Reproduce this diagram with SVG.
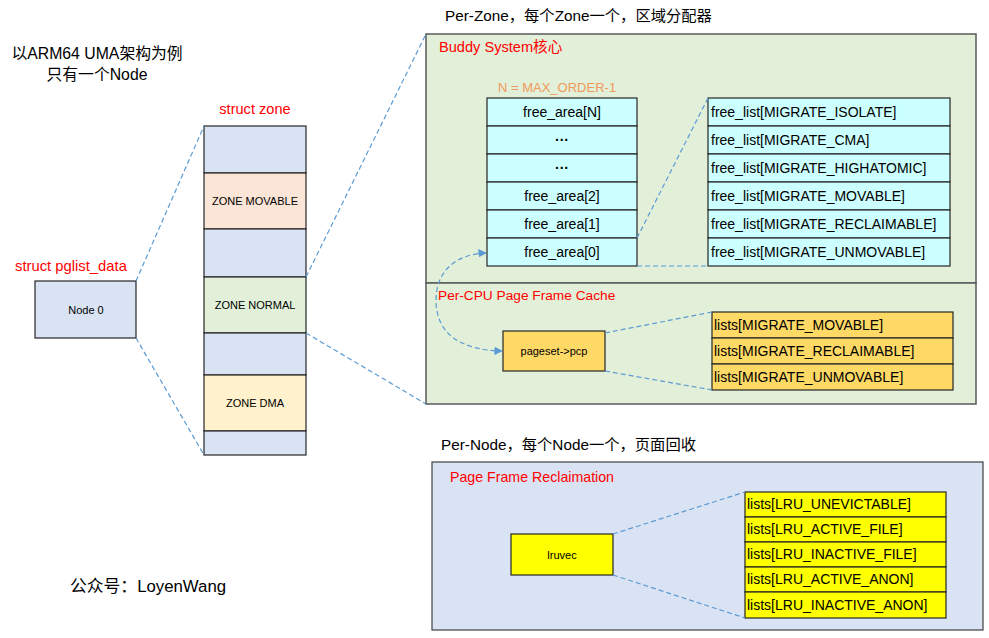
<svg xmlns="http://www.w3.org/2000/svg" width="989" height="638" viewBox="0 0 989 638">
<defs>
<style>
text{font-family:"Liberation Sans","Noto Sans CJK SC",sans-serif;}
.t{font-size:14px;fill:#000;}
.h{font-size:15.3px;fill:#000;}
.s{font-size:11px;fill:#000;}
.red{fill:#ff0000;}
.box{stroke:#262626;stroke-width:1.2;}
.dash{fill:none;stroke:#5b9bd5;stroke-width:1.2;stroke-dasharray:5,3;}
.blue{fill:#dae3f3;}
.cyan{fill:#ccffff;}
.gold{fill:#ffd966;}
.yel{fill:#ffff00;}
</style>
<marker id="ah" viewBox="0 0 10 10" refX="9" refY="5" markerWidth="7" markerHeight="7" orient="auto-start-reverse">
<path d="M0,0 L10,5 L0,10 z" fill="#5b9bd5"/>
</marker>
</defs>
<rect width="989" height="638" fill="#ffffff"/>

<g id="title">
<text x="97" y="59" font-size="15.8px" fill="#000" text-anchor="middle">以ARM64 UMA架构为例</text>
<text x="97" y="80" font-size="15.8px" fill="#000" text-anchor="middle">只有一个Node</text>
</g>

<g id="node0">
<text x="15" y="271" font-size="14.8px" class="red">struct pglist_data</text>
<rect x="35" y="281" width="101" height="57" class="box blue"/>
<text x="86" y="314" class="s" text-anchor="middle">Node 0</text>
</g>

<g id="zone">
<text x="255" y="114" font-size="14.6px" class="red" text-anchor="middle">struct zone</text>
<rect x="204" y="126" width="102" height="47" class="box blue"/>
<rect x="204" y="173" width="102" height="56" class="box" fill="#fbe5d6"/>
<text x="255" y="205" class="s" text-anchor="middle">ZONE MOVABLE</text>
<rect x="204" y="229" width="102" height="48" class="box blue"/>
<rect x="204" y="277" width="102" height="56" class="box" fill="#e2f0d9"/>
<text x="255" y="309" class="s" text-anchor="middle">ZONE NORMAL</text>
<rect x="204" y="333" width="102" height="42" class="box blue"/>
<rect x="204" y="375" width="102" height="56" class="box" fill="#fff2cc"/>
<text x="255" y="407" class="s" text-anchor="middle">ZONE DMA</text>
<rect x="204" y="431" width="102" height="24" class="box blue"/>
</g>

<g id="perzone">
<text x="445" y="21" class="h">Per-Zone，每个Zone一个，区域分配器</text>
<rect x="426" y="34" width="550" height="249" fill="#e2efd9" stroke="#595959" stroke-width="1.5"/>
<rect x="426" y="283" width="550" height="121" fill="#e2efd9" stroke="#595959" stroke-width="1.5"/>
<text x="439" y="52" font-size="14.6px" class="red">Buddy System核心</text>
<text x="498" y="92" font-size="13px" fill="#f19a5c">N = MAX_ORDER-1</text>
<text x="438" y="300" font-size="13.7px" class="red">Per-CPU Page Frame Cache</text>
</g>

<g id="free_area">
<rect x="487" y="98" width="150" height="28" class="box cyan"/>
<rect x="487" y="126" width="150" height="28" class="box cyan"/>
<rect x="487" y="154" width="150" height="28" class="box cyan"/>
<rect x="487" y="182" width="150" height="28" class="box cyan"/>
<rect x="487" y="210" width="150" height="28" class="box cyan"/>
<rect x="487" y="238" width="150" height="28" class="box cyan"/>
<text x="562" y="117" class="t" text-anchor="middle">free_area[N]</text>
<text x="562" y="145" class="t" text-anchor="middle" font-weight="bold">···</text>
<text x="562" y="173" class="t" text-anchor="middle" font-weight="bold">···</text>
<text x="562" y="201" class="t" text-anchor="middle">free_area[2]</text>
<text x="562" y="229" class="t" text-anchor="middle">free_area[1]</text>
<text x="562" y="257" class="t" text-anchor="middle">free_area[0]</text>
</g>

<g id="free_list">
<rect x="708" y="98" width="242" height="28" class="box cyan"/>
<rect x="708" y="126" width="242" height="28" class="box cyan"/>
<rect x="708" y="154" width="242" height="28" class="box cyan"/>
<rect x="708" y="182" width="242" height="28" class="box cyan"/>
<rect x="708" y="210" width="242" height="28" class="box cyan"/>
<rect x="708" y="238" width="242" height="28" class="box cyan"/>
<text x="711" y="117" class="t">free_list[MIGRATE_ISOLATE]</text>
<text x="711" y="145" class="t">free_list[MIGRATE_CMA]</text>
<text x="711" y="173" class="t">free_list[MIGRATE_HIGHATOMIC]</text>
<text x="711" y="201" class="t">free_list[MIGRATE_MOVABLE]</text>
<text x="711" y="229" class="t">free_list[MIGRATE_RECLAIMABLE]</text>
<text x="711" y="257" class="t">free_list[MIGRATE_UNMOVABLE]</text>
</g>

<g id="pcp">
<rect x="503" y="331" width="102" height="40" class="box gold"/>
<text x="554" y="355" class="s" text-anchor="middle">pageset-&gt;pcp</text>
</g>

<g id="pcp_lists">
<rect x="712" y="312" width="241" height="26" class="box gold"/>
<rect x="712" y="338" width="241" height="26" class="box gold"/>
<rect x="712" y="364" width="241" height="26" class="box gold"/>
<text x="714" y="330" class="t">lists[MIGRATE_MOVABLE]</text>
<text x="714" y="356" class="t">lists[MIGRATE_RECLAIMABLE]</text>
<text x="714" y="382" class="t">lists[MIGRATE_UNMOVABLE]</text>
</g>

<g id="pernode">
<text x="441" y="450" class="h">Per-Node，每个Node一个，页面回收</text>
<rect x="432" y="462" width="551" height="168" fill="#dae3f3" stroke="#404040" stroke-width="1.2"/>
<text x="450" y="482" font-size="14.2px" class="red">Page Frame Reclaimation</text>
</g>

<g id="lruvec">
<rect x="511" y="534" width="102" height="41" class="box yel"/>
<text x="562" y="559" class="s" text-anchor="middle">lruvec</text>
</g>

<g id="lru_lists">
<rect x="745" y="492" width="201" height="25" class="box yel"/>
<rect x="745" y="517" width="201" height="25" class="box yel"/>
<rect x="745" y="542" width="201" height="25" class="box yel"/>
<rect x="745" y="567" width="201" height="25" class="box yel"/>
<rect x="745" y="592" width="201" height="26" class="box yel"/>
<text x="747" y="509" class="t">lists[LRU_UNEVICTABLE]</text>
<text x="747" y="534" class="t">lists[LRU_ACTIVE_FILE]</text>
<text x="747" y="559" class="t">lists[LRU_INACTIVE_FILE]</text>
<text x="747" y="584" class="t">lists[LRU_ACTIVE_ANON]</text>
<text x="747" y="610" class="t">lists[LRU_INACTIVE_ANON]</text>
</g>

<g id="footer">
<text x="70" y="592" font-size="16.8px" fill="#000">公众号：LoyenWang</text>
</g>

<g id="connectors">
<line x1="136" y1="281" x2="204" y2="126" class="dash"/>
<line x1="136" y1="338" x2="204" y2="455" class="dash"/>
<line x1="306" y1="277" x2="426" y2="34" class="dash"/>
<line x1="306" y1="333" x2="426" y2="404" class="dash"/>
<line x1="637" y1="238" x2="708" y2="98" class="dash"/>
<line x1="637" y1="266" x2="708" y2="266" class="dash"/>
<line x1="605" y1="333" x2="712" y2="312" class="dash"/>
<line x1="605" y1="371" x2="712" y2="390" class="dash"/>
<line x1="613" y1="534" x2="745" y2="492" class="dash"/>
<line x1="613" y1="575" x2="745" y2="618" class="dash"/>
<path d="M486,253 C455,254 436,272 436,300 C436,332 458,350 502,351" class="dash" marker-start="url(#ah)" marker-end="url(#ah)"/>
</g>
</svg>
